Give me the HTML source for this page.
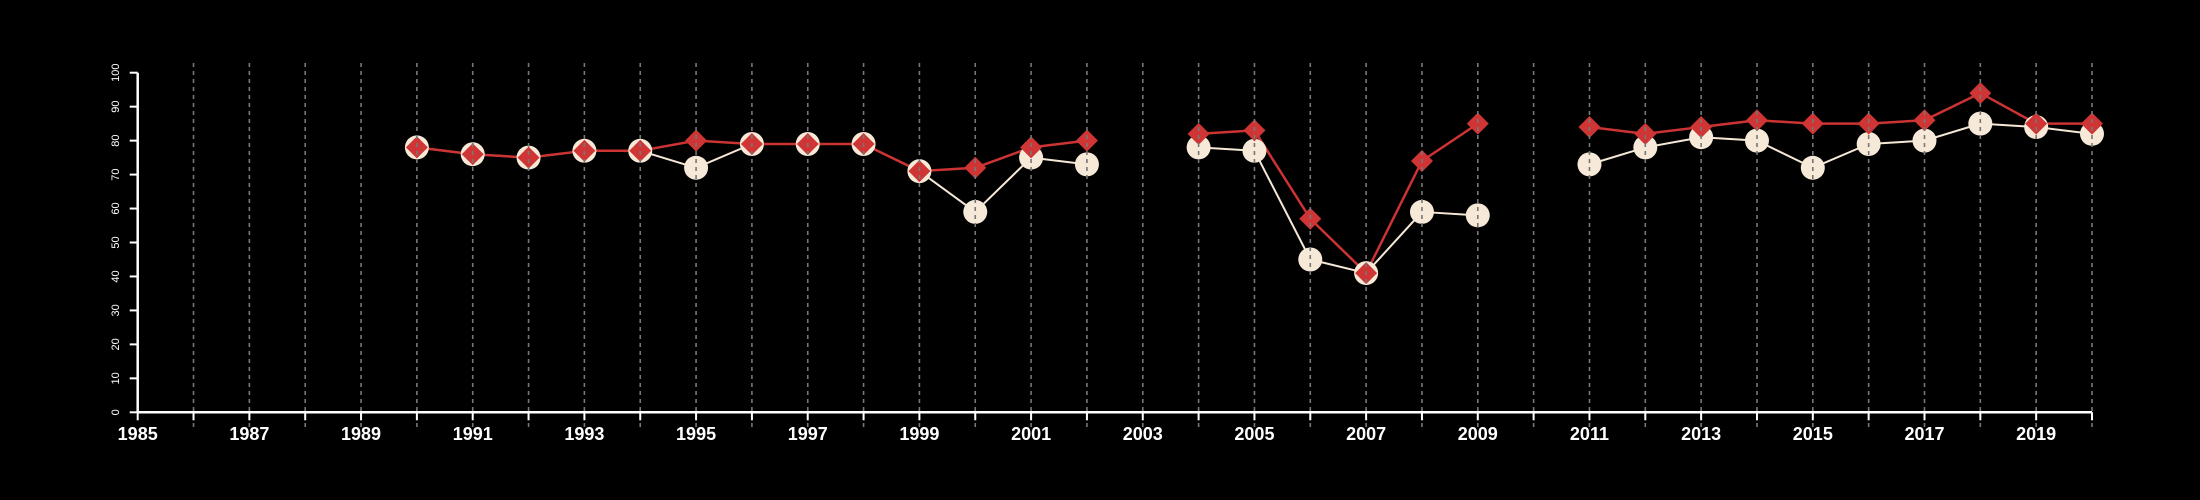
<!DOCTYPE html>
<html><head><meta charset="utf-8"><style>
html,body{margin:0;padding:0;background:#000;}
svg{display:block;}
text{font-family:"Liberation Sans",Arial,sans-serif;fill:#fff;}
</style></head><body>
<svg id="chart" width="2200" height="500" viewBox="0 0 2200 500" xmlns="http://www.w3.org/2000/svg">
<rect width="2200" height="500" fill="#000"/>
<g id="lines"></g>
<g id="marks"></g>
<g id="grid"></g>
<g id="axes"></g>
</svg>
<script>
const years = [1990,1991,1992,1993,1994,1995,1996,1997,1998,1999,2000,2001,2002,2003,2004,2005,2006,2007,2008,2009,2010,2011,2012,2013,2014,2015,2016,2017,2018,2019,2020];
const seriesWhite = [78,76,75,77,77,72,79,79,79,71,59,75,73,null,78,77,45,41,59,58,null,73,78,81,80,72,79,80,85,84,82];
const seriesRed = [78,76,75,77,77,80,79,79,79,71,72,78,80,null,82,83,57,41,74,85,null,84,82,84,86,85,85,86,94,85,85];
const yTicks = [0,10,20,30,40,50,60,70,80,90,100];
const xTickYears = [1985,1986,1987,1988,1989,1990,1991,1992,1993,1994,1995,1996,1997,1998,1999,2000,2001,2002,2003,2004,2005,2006,2007,2008,2009,2010,2011,2012,2013,2014,2015,2016,2017,2018,2019,2020];

const NS='http://www.w3.org/2000/svg';
const X0=137.7,X1=2092,Y0=412.3,Y1=72.7;
function xs(v){return X0+(v-1985)/(2020-1985)*(X1-X0);}
function ys(v){return Y0-(v/100)*(Y0-Y1);}
function mk(tag,attrs,parent){const e=document.createElementNS(NS,tag);for(const k in attrs)e.setAttribute(k,attrs[k]);parent.appendChild(e);return e;}
const gl=document.getElementById('lines'),gm=document.getElementById('marks'),gg=document.getElementById('grid'),ga=document.getElementById('axes');

function drawLine(vals,color,w,name){
  let seg=[];
  const flush=()=>{if(seg.length>1){const p=mk('polyline',{points:seg.join(' '),fill:'none',stroke:color,'stroke-width':w,'stroke-linejoin':'round'},gl);
    
    }seg=[];};
  vals.forEach((v,i)=>{if(v==null)flush();else seg.push(xs(years[i])+','+ys(v));});
  flush();
}
drawLine(seriesWhite,'#f5e8d6',2,'white-series-line');
drawLine(seriesRed,'#cc3333',2.5,'red-series-line');
seriesWhite.forEach((v,i)=>{if(v==null)return;
  const c=mk('circle',{cx:xs(years[i]),cy:ys(v),r:12,fill:'#f7e9d7'},gm);
  
  
});
seriesRed.forEach((v,i)=>{if(v==null)return;
  const x=xs(years[i]),y=ys(v),s=11;
  const d=mk('polygon',{points:`${x},${y-s} ${x+s},${y} ${x},${y+s} ${x-s},${y}`,fill:'#cf3535'},gm);
  
  
});
xTickYears.forEach(yr=>{
  const x=xs(yr);
  if(yr>1985){
    const g=mk('line',{x1:x,x2:x,y1:63,y2:428,stroke:'#777','stroke-width':1.6,'stroke-dasharray':'4,4'},gg);
    
    
  }
  const t=mk('line',{x1:x,x2:x,y1:Y0,y2:Y0+8,stroke:'#fff','stroke-width':2},ga);
  
  
  if((yr-1985)%2===0){
    const tx=mk('text',{x:x,y:440,'text-anchor':'middle','font-size':18,'font-weight':'bold'},ga);
    tx.textContent=yr;
    
    
  }
});
const xa=mk('line',{x1:X0,x2:X1,y1:Y0,y2:Y0,stroke:'#fff','stroke-width':2.5},ga);


const ya=mk('line',{x1:X0,x2:X0,y1:Y1,y2:Y0,stroke:'#fff','stroke-width':2.5},ga);


yTicks.forEach(v=>{
  const y=ys(v);
  const t=mk('line',{x1:X0-8,x2:X0,y1:y,y2:y,stroke:'#fff','stroke-width':2},ga);
  
  
  const tx=mk('text',{x:0,y:0,'text-anchor':'middle','font-size':11,transform:`translate(119,${y}) rotate(-90)`},ga);
  tx.textContent=v;
  
  
});
</script>
</body></html>
